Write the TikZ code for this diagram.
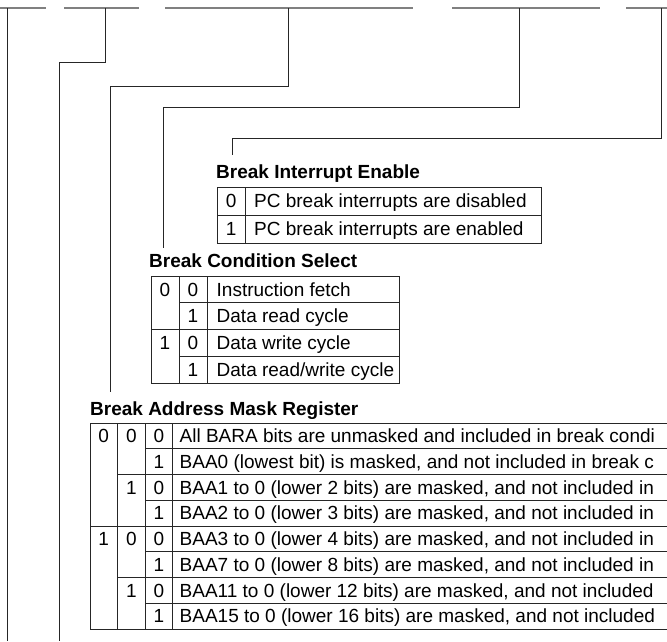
\documentclass[tikz,border=0pt]{standalone}
\usepackage{fontspec}
\setmainfont{Liberation Sans}
\begin{document}
\begin{tikzpicture}[x=1pt,y=-1pt,
  conn/.style={draw=black!85, line width=1pt},
  topseg/.style={draw=black!50, line width=1.8pt},
  gridline/.style={draw=black!85, line width=0.9pt},
  cell/.style={font=\fontsize{19}{22}\selectfont, inner sep=0pt, anchor=base},
  desc/.style={font=\fontsize{19}{22}\selectfont, inner sep=0pt, anchor=base west},
  ttl/.style={font=\fontsize{19}{22}\selectfont\bfseries, inner sep=0pt, anchor=base west}]
\clip (0,0) rectangle (667,641);
\fill[white] (0,0) rectangle (667,641);

% top bit-field segments
\draw[topseg] (0,8) -- (46,8);
\draw[topseg] (64,8) -- (139,8);
\draw[topseg] (165,8) -- (413,8);
\draw[topseg] (452,8) -- (600,8);
\draw[topseg] (626,8) -- (667,8);

% connectors
\coordinate (t1) at (7,8);   \coordinate (e1) at (7,641);
\coordinate (t2) at (105,8); \coordinate (b2) at (59,62);  \coordinate (e2) at (59,641);
\coordinate (t3) at (288,8); \coordinate (b3) at (110,86); \coordinate (e3) at (110,392);
\coordinate (t4) at (519,8); \coordinate (b4) at (163,107);\coordinate (e4) at (163,248);
\coordinate (t5) at (661,8); \coordinate (b5) at (232,138);\coordinate (e5) at (232,155);
\draw[conn] (t1) -- (e1);
\draw[conn] (t2) |- (b2) -- (e2);
\draw[conn] (t3) |- (b3) -- (e3);
\draw[conn] (t4) |- (b4) -- (e4);
\draw[conn] (t5) |- (b5) -- (e5);

% ---------- Break Interrupt Enable ----------
\node[ttl] (bieT) at (216,178) {Break Interrupt Enable};
\draw[gridline] (217,187) rectangle (541,243);
\draw[gridline] (217,215) -- (541,215);
\draw[gridline] (245.5,187) -- (245.5,243);
\node[cell] (bie1a) at (231.25,207.8) {0};
\node[desc] (bie1b) at (254,207.8) {PC break interrupts are disabled};
\node[cell] (bie2a) at (231.25,235.8) {1};
\node[desc] (bie2b) at (254,235.8) {PC break interrupts are enabled};

% ---------- Break Condition Select ----------
\node[ttl] (bcsT) at (149,267) {Break Condition Select};
\draw[gridline] (151,276) rectangle (399,383);
\draw[gridline] (179,276) -- (179,383);
\draw[gridline] (207,276) -- (207,383);
\draw[gridline] (179,302.75) -- (399,302.75);
\draw[gridline] (151,329.5) -- (399,329.5);
\draw[gridline] (179,356.25) -- (399,356.25);
\node[cell] (bcs1a) at (165,296.2) {0};
\node[cell] (bcs3a) at (165,349.7) {1};
\foreach \r/\d/\t in {1/0/Instruction fetch, 2/1/Data read cycle, 3/0/Data write cycle, 4/1/Data read\slash write cycle}{
  \node[cell] (bcs\r b) at (193,{276+26.75*(\r-0.5)+6.8}) {\d};
  \node[desc] (bcs\r c) at (216.5,{276+26.75*(\r-0.5)+6.8}) {\t};
}

% ---------- Break Address Mask Register ----------
\node[ttl] (bamT) at (90,415) {Break Address Mask Register};
\draw[gridline] (700,423) -- (90,423) -- (90,629) -- (700,629);
\draw[gridline] (117.5,423) -- (117.5,629);
\draw[gridline] (145.5,423) -- (145.5,629);
\draw[gridline] (172.5,423) -- (172.5,629);
\draw[gridline] (145.5,448.75) -- (700,448.75);
\draw[gridline] (117.5,474.5) -- (700,474.5);
\draw[gridline] (145.5,500.25) -- (700,500.25);
\draw[gridline] (90,526) -- (700,526);
\draw[gridline] (145.5,551.75) -- (700,551.75);
\draw[gridline] (117.5,577.5) -- (700,577.5);
\draw[gridline] (145.5,603.25) -- (700,603.25);
\node[cell] (bam1a) at (103.75,442.7) {0};
\node[cell] (bam5a) at (103.75,545.7) {1};
\node[cell] (bam1b) at (131.5,442.7) {0};
\node[cell] (bam3b) at (131.5,494.2) {1};
\node[cell] (bam5b) at (131.5,545.7) {0};
\node[cell] (bam7b) at (131.5,597.2) {1};
\foreach \r/\d/\t in {
  1/0/{All BARA bits are unmasked and included in break condi},
  2/1/{BAA0 (lowest bit) is masked, and not included in break c},
  3/0/{BAA1 to 0 (lower 2 bits) are masked, and not included in},
  4/1/{BAA2 to 0 (lower 3 bits) are masked, and not included in},
  5/0/{BAA3 to 0 (lower 4 bits) are masked, and not included in},
  6/1/{BAA7 to 0 (lower 8 bits) are masked, and not included in},
  7/0/{BAA11 to 0 (lower 12 bits) are masked, and not included},
  8/1/{BAA15 to 0 (lower 16 bits) are masked, and not included}}{
  \node[cell] (bam\r c) at (159,{423+25.75*(\r-0.5)+6.8}) {\d};
  \node[desc] (bam\r d) at (179.5,{423+25.75*(\r-0.5)+6.8}) {\t};
}
\end{tikzpicture}
\end{document}
